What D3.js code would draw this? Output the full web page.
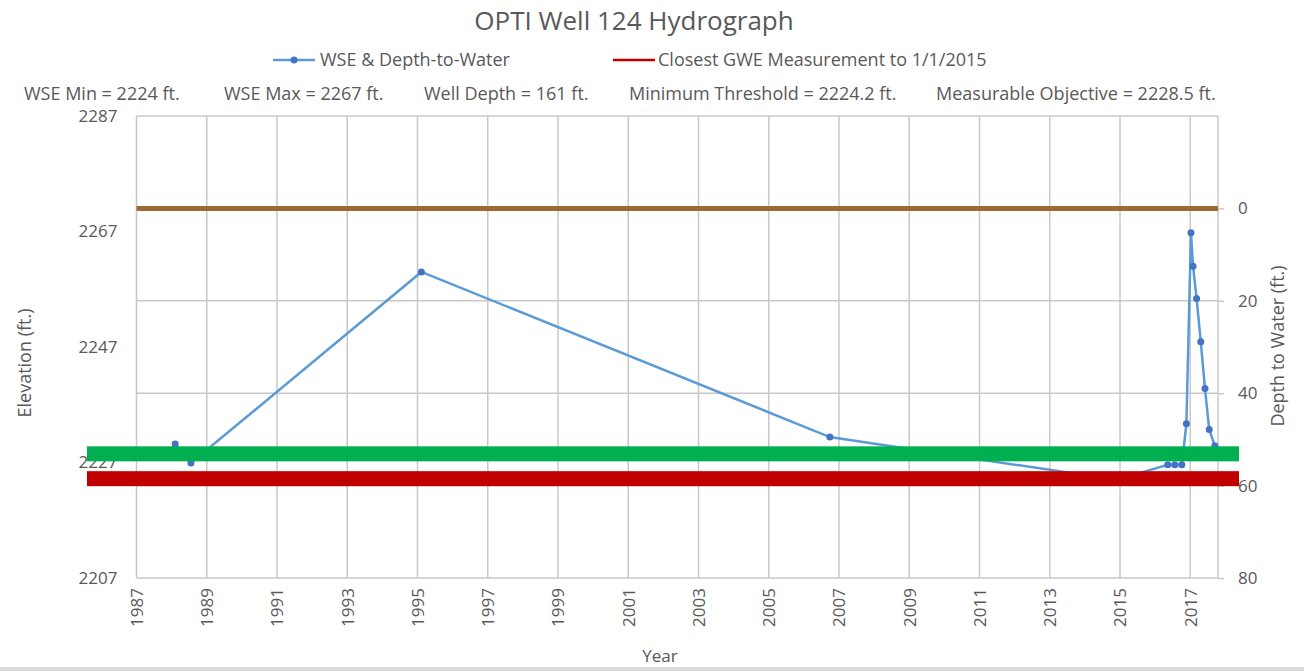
<!DOCTYPE html>
<html>
<head>
<meta charset="utf-8">
<script src="https://cdn.jsdelivr.net/npm/d3@7"></script>
<style>
  body { margin: 0; background: #fff; }
  text { font-family: "Open Sans", sans-serif; fill: #595959; }
</style>
</head>
<body>
<script>
// Measurements (decimal year, water surface elevation in ft.)
const years = [1988.10, 1988.55, 1995.11, 2006.74, 2014.9, 2016.36, 2016.56, 2016.76, 2016.89,
               2017.02, 2017.08, 2017.18, 2017.30, 2017.42, 2017.54, 2017.70];
const wse = [2230.2, 2226.9, 2260.0, 2231.4, 2224.0, 2226.6, 2226.6, 2226.6, 2233.7,
             2266.8, 2261.0, 2255.4, 2247.9, 2239.8, 2232.7, 2229.9];

const xTicks = d3.range(1987, 2018, 2);
const elevTicks = [2207, 2227, 2247, 2267, 2287];
const depthTicks = [0, 20, 40, 60, 80];

const groundDepth = 0;
const minThreshold = 2224.2;
const measObjective = 2228.5;

const stats = ["WSE Min = 2224 ft.", "WSE Max = 2267 ft.", "Well Depth = 161 ft.",
               "Minimum Threshold = 2224.2 ft.", "Measurable Objective = 2228.5 ft."];
const statsX = [24, 224, 424, 629, 936];

const data = years.map((y, i) => ({ year: y, wse: wse[i] }));

const width = 1304, height = 671;
const plot = { left: 136.5, right: 1218, top: 116, bottom: 578 };

const svg = d3.select("body").append("svg")
  .attr("width", width)
  .attr("height", height);

const x = d3.scaleLinear().domain([1987, 2017.79]).range([plot.left, plot.right]);
const yL = d3.scaleLinear().domain([2207, 2287]).range([plot.bottom, plot.top]);
const yR = d3.scaleLinear().domain([-20, 80]).range([plot.top, plot.bottom]);

// grid
svg.append("g").selectAll("line")
  .data(xTicks)
  .enter().append("line")
  .attr("x1", d => x(d)).attr("x2", d => x(d))
  .attr("y1", plot.top).attr("y2", plot.bottom)
  .attr("stroke", "#c8c8c8").attr("stroke-width", 1.5);

svg.append("g").selectAll("line")
  .data([-20, 20, 40, 60, 80])
  .enter().append("line")
  .attr("x1", plot.left).attr("x2", plot.right)
  .attr("y1", d => yR(d)).attr("y2", d => yR(d))
  .attr("stroke", "#c8c8c8").attr("stroke-width", 1.5);

svg.append("line")
  .attr("x1", plot.right).attr("x2", plot.right)
  .attr("y1", plot.top).attr("y2", plot.bottom)
  .attr("stroke", "#c8c8c8").attr("stroke-width", 1.5);

// left axis
const leftAxis = svg.append("g")
  .attr("transform", `translate(${plot.left},0)`)
  .call(d3.axisLeft(yL).tickValues(elevTicks).tickFormat(d3.format("d")).tickSize(0).tickPadding(19));
leftAxis.select(".domain").remove();
leftAxis.selectAll("text").style("font-size", "17px").attr("fill", "#595959");

// right axis
const rightAxis = svg.append("g")
  .attr("transform", `translate(${plot.right},0)`)
  .call(d3.axisRight(yR).tickValues(depthTicks).tickSize(6).tickPadding(14));
rightAxis.select(".domain").remove();
rightAxis.selectAll("line").attr("stroke", "#c8c8c8").attr("stroke-width", 1.5);
rightAxis.selectAll("text").style("font-size", "17px").attr("fill", "#595959");

// x axis
const xAxis = svg.append("g")
  .attr("transform", `translate(0,${plot.bottom})`)
  .call(d3.axisBottom(x).tickValues(xTicks).tickFormat(d3.format("d")).tickSize(0));
xAxis.select(".domain").remove();
xAxis.selectAll("text")
  .style("font-size", "17px")
  .attr("fill", "#595959")
  .attr("transform", "rotate(-90)")
  .attr("x", -10).attr("y", 0).attr("dy", "0.35em")
  .style("text-anchor", "end");

// ground surface line (depth 0)
svg.append("line")
  .attr("x1", plot.left).attr("x2", plot.right)
  .attr("y1", yR(groundDepth)).attr("y2", yR(groundDepth))
  .attr("stroke", "#9c6a34").attr("stroke-width", 5);

// hydrograph
const line = d3.line().x(d => x(d.year)).y(d => yL(d.wse));
svg.append("path")
  .datum(data)
  .attr("d", line)
  .attr("fill", "none")
  .attr("stroke", "#5b9bd5")
  .attr("stroke-width", 2.5);

svg.append("g").selectAll("circle")
  .data(data)
  .enter().append("circle")
  .attr("cx", d => x(d.year))
  .attr("cy", d => yL(d.wse))
  .attr("r", 3.5)
  .attr("fill", "#4472c4");

// threshold bars
svg.append("rect")
  .attr("x", 87).attr("width", 1152)
  .attr("y", yL(measObjective) - 7.5).attr("height", 15)
  .attr("fill", "#00b050");
svg.append("rect")
  .attr("x", 87).attr("width", 1152)
  .attr("y", yL(minThreshold) - 7.5).attr("height", 15)
  .attr("fill", "#c00000");

// title
svg.append("text")
  .attr("x", 634).attr("y", 30)
  .attr("text-anchor", "middle")
  .style("font-size", "26px")
  .text("OPTI Well 124 Hydrograph");

// legend
const lg = svg.append("g");
lg.append("line").attr("x1", 273).attr("x2", 315).attr("y1", 60).attr("y2", 60)
  .attr("stroke", "#5b9bd5").attr("stroke-width", 2.5);
lg.append("circle").attr("cx", 294).attr("cy", 60).attr("r", 3.5).attr("fill", "#4472c4");
lg.append("text").attr("x", 320).attr("y", 66).style("font-size", "18px").text("WSE & Depth-to-Water");
lg.append("line").attr("x1", 613).attr("x2", 655).attr("y1", 60).attr("y2", 60)
  .attr("stroke", "#c00000").attr("stroke-width", 2.5);
lg.append("text").attr("x", 658).attr("y", 66).style("font-size", "18px").text("Closest GWE Measurement to 1/1/2015");

// stats row
svg.append("g").selectAll("text")
  .data(stats)
  .enter().append("text")
  .attr("x", (d, i) => statsX[i])
  .attr("y", 100)
  .style("font-size", "18px")
  .text(d => d);

// axis titles
svg.append("text")
  .attr("x", 660).attr("y", 662)
  .attr("text-anchor", "middle")
  .style("font-size", "17px")
  .text("Year");

svg.append("text")
  .attr("transform", "translate(31,363) rotate(-90)")
  .attr("text-anchor", "middle")
  .style("font-size", "18px")
  .text("Elevation (ft.)");

svg.append("text")
  .attr("transform", "translate(1284,346) rotate(-90)")
  .attr("text-anchor", "middle")
  .style("font-size", "18px")
  .text("Depth to Water (ft.)");

// frame bottom edge
svg.append("rect")
  .attr("x", 0).attr("y", 667).attr("width", width).attr("height", 4)
  .attr("fill", "#d9d9d9");
</script>
</body>
</html>
